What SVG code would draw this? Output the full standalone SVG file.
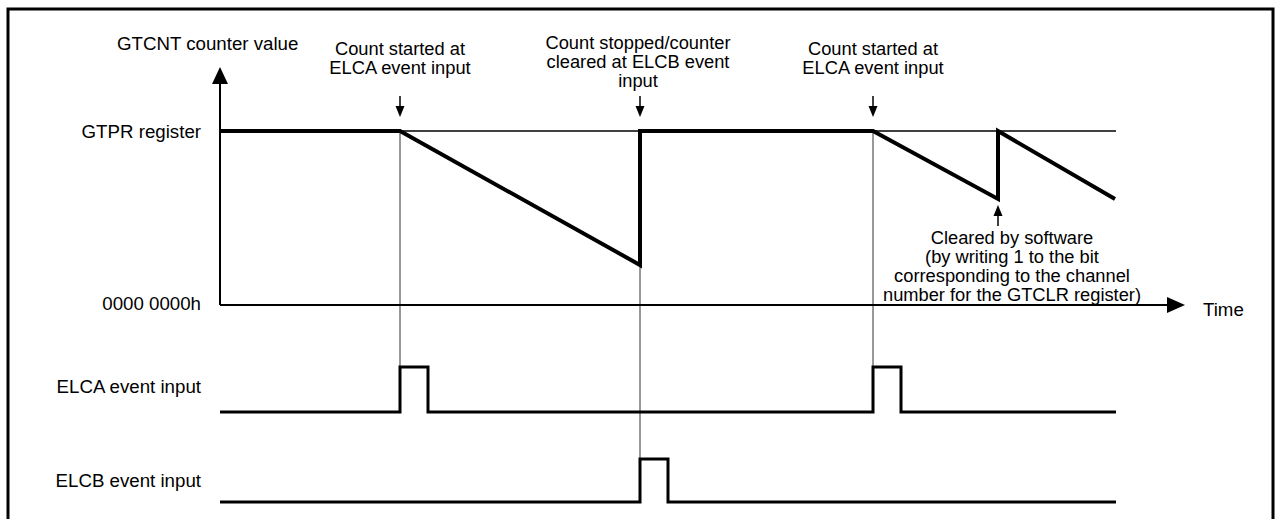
<svg xmlns="http://www.w3.org/2000/svg" width="1282" height="519" viewBox="0 0 1282 519">
<style>
text{font-family:"Liberation Sans",Arial,sans-serif;font-size:18.7px;fill:#000}
.c{text-anchor:middle;font-size:18.3px}
.r{text-anchor:end}
.guide{stroke:#333;stroke-width:1;fill:none}
.axis{stroke:#000;stroke-width:2;fill:none}
.wave{stroke:#000;stroke-width:4;fill:none;stroke-linejoin:miter}
.pulse{stroke:#000;stroke-width:3;fill:none}
.thin{stroke:#000;stroke-width:1.5;fill:none}
</style>
<rect x="8" y="9" width="1265" height="530" fill="none" stroke="#000" stroke-width="3"/>
<g id="connectors">
<line class="guide" x1="400" y1="131" x2="400" y2="367"/>
<line class="guide" x1="640" y1="265" x2="640" y2="459"/>
<line class="guide" x1="873" y1="131" x2="873" y2="367"/>
<line class="thin" x1="220" y1="131" x2="1116" y2="131"/>
<line class="axis" x1="220" y1="305" x2="220" y2="82"/>
<path d="M220,67 L212,84 L228,84 z" fill="#000"/>
<line class="axis" x1="220" y1="305" x2="1168" y2="305"/>
<path d="M1185,305 L1167,297 L1167,313 z" fill="#000"/>
<path class="wave" d="M220,131 L400,131 L640,265 L640,131 L873,131 L998,199 L998,131 L1115,199"/>
<path class="pulse" d="M220,412 L400,412 L400,367 L428,367 L428,412 L873,412 L873,367 L901,367 L901,412 L1116,412"/>
<path class="pulse" d="M220,502 L640,502 L640,459 L668,459 L668,502 L1116,502"/>
<g id="arrow-a1"><line class="thin" x1="400" y1="96" x2="400" y2="110"/><path d="M400,117 L395.5,106 L404.5,106 z" fill="#000"/></g>
<g id="arrow-b"><line class="thin" x1="640" y1="96" x2="640" y2="110"/><path d="M640,117 L635.5,106 L644.5,106 z" fill="#000"/></g>
<g id="arrow-a2"><line class="thin" x1="873" y1="96" x2="873" y2="110"/><path d="M873,117 L868.5,106 L877.5,106 z" fill="#000"/></g>
<g id="arrow-sw"><line class="thin" x1="998" y1="213" x2="998" y2="226"/><path d="M998,205 L993.5,216 L1002.5,216 z" fill="#000"/></g>
</g>
<g id="label-ycnt"><text x="117" y="50">GTCNT counter value</text></g>
<g id="label-gtpr"><text class="r" x="201" y="138">GTPR register</text></g>
<g id="label-zero"><text class="r" x="201" y="310">0000 0000h</text></g>
<g id="label-elca"><text class="r" x="201" y="393">ELCA event input</text></g>
<g id="label-elcb"><text class="r" x="201" y="487">ELCB event input</text></g>
<g id="label-time"><text x="1203" y="316">Time</text></g>
<g id="note-start1"><text class="c" x="400" y="55">Count started at</text><text class="c" x="400" y="74">ELCA event input</text></g>
<g id="note-stop"><text class="c" x="638" y="49">Count stopped/counter</text><text class="c" x="638" y="68">cleared at ELCB event</text><text class="c" x="638" y="87">input</text></g>
<g id="note-start2"><text class="c" x="873" y="55">Count started at</text><text class="c" x="873" y="74">ELCA event input</text></g>
<g id="note-clear"><text class="c" x="1012" y="244">Cleared by software</text><text class="c" x="1012" y="263">(by writing 1 to the bit</text><text class="c" x="1012" y="282">corresponding to the channel</text><text class="c" x="1012" y="301">number for the GTCLR register)</text></g>
</svg>
